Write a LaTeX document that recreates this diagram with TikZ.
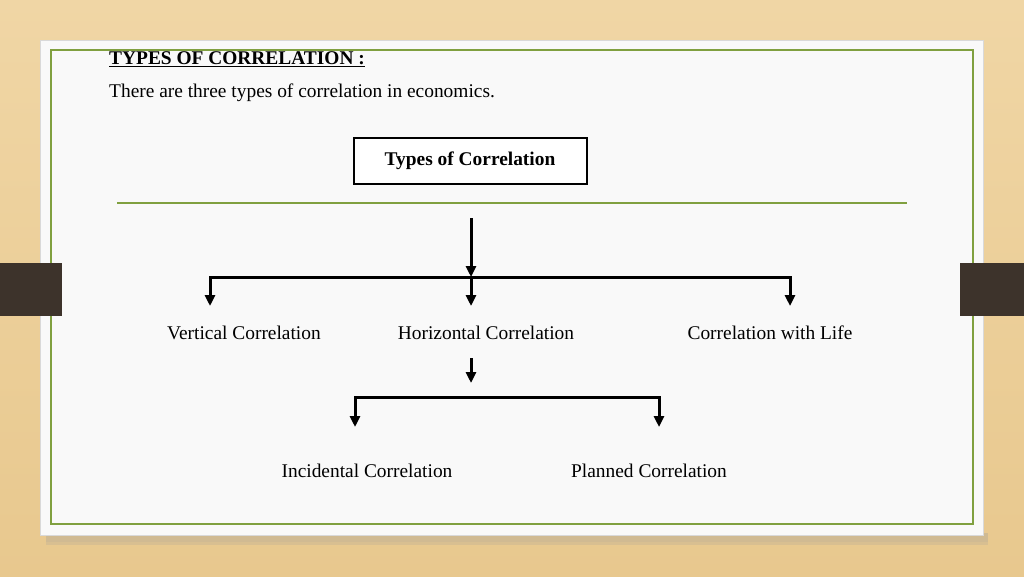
\documentclass[tikz,border=0pt]{standalone}
\usepackage{fontspec}
\setmainfont{Liberation Serif}
\usetikzlibrary{arrows.meta}

\definecolor{wood}{RGB}{232,200,142}
\definecolor{woodlight}{RGB}{240,214,165}
\definecolor{paper}{RGB}{249,249,249}
\definecolor{olive}{RGB}{128,160,64}
\definecolor{tab}{RGB}{61,51,43}

\begin{document}
\begin{tikzpicture}[x=1pt,y=-1pt,
    txt/.style = {inner sep=0pt,font=\fontsize{19.4}{22}\selectfont},
    head/.style = {draw=black,line width=2pt,fill=white,minimum width=233pt,minimum height=46pt,font=\fontsize{19.4}{22}\selectfont\bfseries},
    flow/.style = {line width=3pt,-{Triangle[width=10pt,length=11pt]}},
    bar/.style = {line width=3pt,line cap=rect}]
\useasboundingbox (0,0) rectangle (1024,576);
% wood and panel
\shade[top color=woodlight,bottom color=wood] (0,0) rectangle (1024,576);
\fill[black!40,opacity=.3] (46,533) rectangle (988,542);
\fill[black!40,opacity=.2] (46,542) rectangle (988,545);
\fill[paper,draw=black!15] (40,40) rectangle (983,535);
\draw[olive,line width=1.5pt] (51,50) rectangle (973,524);
\fill[tab] (0,263) rectangle (62,316);
\fill[tab] (960,263) rectangle (1024,316);
\draw[olive,line width=1.3pt] (117,203) -- (907,203);
% texts
\node[txt,anchor=west,font=\fontsize{19.4}{22}\selectfont\bfseries] (title) at (109,59) {\underline{TYPES OF CORRELATION :}};
\node[txt,anchor=west] (intro) at (109,93) {There are three types of correlation in economics.};
\node[head] (types) at (470,161) {Types of Correlation};
\node[txt] (vert) at (244,333) {Vertical Correlation};
\node[txt] (horiz) at (486,333) {Horizontal Correlation};
\node[txt] (life) at (770,333) {Correlation with Life};
\node[txt] (incid) at (367,471) {Incidental Correlation};
\node[txt] (plan) at (649,471) {Planned Correlation};
% first level
\coordinate (top) at (471,218);
\coordinate (hub) at (471,277);
\coordinate (hubl) at (210,277);
\coordinate (hubr) at (790,277);
\draw[bar] (hubl) -- (hubr);
\draw[flow] (top) -- (hub);
\foreach \x in {210,471,790}
    \draw[flow] (\x,277) -- (\x,306);
% second level
\coordinate (sub) at (471,358);
\coordinate (subl) at (355,397);
\coordinate (subr) at (659,397);
\draw[flow] (sub) -- (471,383);
\draw[bar] (subl) -- (subr);
\foreach \x in {355,659}
    \draw[flow] (\x,397) -- (\x,427);
\end{tikzpicture}
\end{document}
